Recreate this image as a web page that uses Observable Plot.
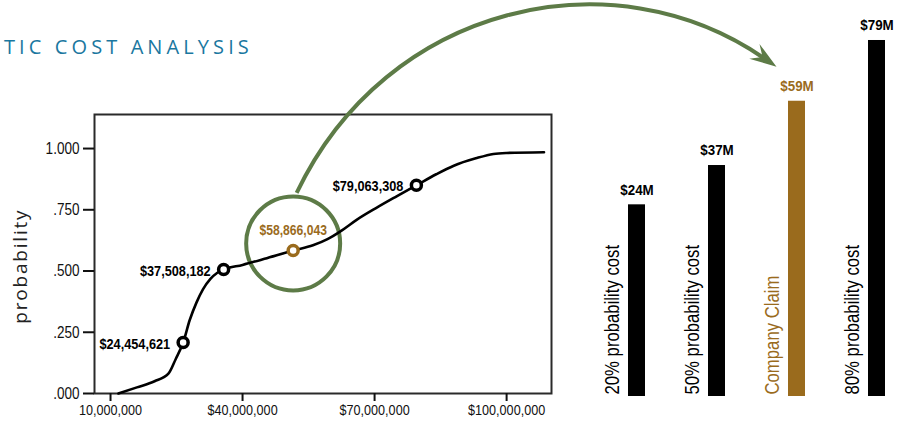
<!DOCTYPE html>
<html>
<head>
<meta charset="utf-8">
<script src="https://cdn.jsdelivr.net/npm/d3@7"></script>
<script src="https://cdn.jsdelivr.net/npm/@observablehq/plot@0.6"></script>
<style>
  html, body { margin: 0; padding: 0; background: #fff; }
  #wrap { position: relative; width: 897px; height: 427px; overflow: hidden; }
  #title { position: absolute; left: 4px; top: 37px; font-family: "Open Sans", "Noto Sans", sans-serif; font-size: 20px; line-height: 20px; letter-spacing: 4.1px; color: #1a77a0; white-space: nowrap; }
  .pa, .pb { position: absolute; top: 0; }
  .pa { left: 0; }
  .pb { left: 590px; }
</style>
</head>
<body>
<div id="wrap"><div id="title">TIC COST ANALYSIS</div></div>
<script>
// ---- data ----
// cumulative probability curve: cost ($M, in axis units) and probability
const curveCost = [11.8, 16, 20, 23.2, 24.8, 26.5, 28, 29.5, 31, 32.7, 34.2, 35.7, 40, 45, 51.5, 56, 59.3, 62.5, 66, 70.6, 75, 79.5, 84, 88, 93, 97, 100, 108.5];
const curveProb = [0, 0.025, 0.05, 0.082, 0.14, 0.208, 0.3, 0.37, 0.425, 0.468, 0.492, 0.506, 0.525, 0.55, 0.584, 0.605, 0.63, 0.665, 0.71, 0.76, 0.805, 0.85, 0.895, 0.93, 0.96, 0.978, 0.982, 0.985];
// highlighted points on the curve
const markerCost = [26.5, 35.7, 51.5, 79.5];
const markerProb = [0.208, 0.506, 0.584, 0.85];
const markerLabels = ["$24,454,621", "$37,508,182", "$58,866,043", "$79,063,308"];
const claimIndex = 2;
// axes
const xTicks = [10, 40, 70, 100];
const xTickLabels = ["10,000,000", "$40,000,000", "$70,000,000", "$100,000,000"];
const yTicks = [0, 0.25, 0.5, 0.75, 1];
// bars
const barCategories = ["20% probability cost", "50% probability cost", "Company Claim", "80% probability cost"];
const barValues = [24.45, 37.51, 58.87, 79.06];
const barLabels = ["$24M", "$37M", "$59M", "$79M"];

// ---- styles ----
const GOLD = "#9a6b1d";
const GREEN = "#5d7b47";
const base = '"Liberation Sans", Arial, sans-serif';
const SQUEEZE = 0.82;      // condensed look
const SQUEEZE_BAR = 0.88;  // bar value labels

const wrap = document.getElementById("wrap");
const mIdx = d3.range(markerCost.length);
const markerColors = mIdx.map(i => i === claimIndex ? GOLD : "#000");

const plotA = Plot.plot({
  width: 580, height: 427,
  marginLeft: 94, marginRight: 29, marginTop: 114, marginBottom: 34,
  style: { fontFamily: base, background: "transparent", overflow: "visible", color: "#111" },
  x: { domain: [6.36, 110.2] },
  y: { domain: [0, 1.139] },
  marks: [
    Plot.frame({ stroke: "#2a2a2a", strokeWidth: 2 }),
    Plot.axisX(xTicks, { tickSize: 8, tickPadding: 3, strokeWidth: 2, fontSize: 15.4, label: null,
      tickFormat: d => xTickLabels[xTicks.indexOf(d)] }),
    Plot.axisY(yTicks, { tickSize: 11, tickPadding: 4, strokeWidth: 2, fontSize: 16.5, label: null,
      tickFormat: d => d3.format(".3f")(d).replace(/^0/, "") }),
    Plot.text(["probability"], { frameAnchor: "left", textAnchor: "middle", dx: -74, dy: 13, rotate: -90,
      fontFamily: '"Open Sans", "Noto Sans", sans-serif', fontSize: 19, fill: "#222" }),
    Plot.dot([claimIndex], { x: i => markerCost[i], y: i => markerProb[i], r: 47, dy: -7,
      fill: "none", stroke: GREEN, strokeWidth: 4 }),
    Plot.line(d3.range(curveCost.length), { x: i => curveCost[i], y: i => curveProb[i],
      curve: "monotone-x", stroke: "#000", strokeWidth: 2.6 }),
    Plot.dot(mIdx, { x: i => markerCost[i], y: i => markerProb[i], r: 5, fill: "#fff",
      stroke: i => markerColors[i], strokeWidth: 3.5 }),
    Plot.text(mIdx.filter(i => i !== claimIndex), { x: i => markerCost[i], y: i => markerProb[i],
      text: i => markerLabels[i], textAnchor: "end", dx: -13, dy: 1, fontWeight: "bold", fontSize: 15.5, fill: "#000" }),
    Plot.text([claimIndex], { x: i => markerCost[i], y: i => markerProb[i],
      text: i => markerLabels[i], dy: -20, fontWeight: "bold", fontSize: 14.8, fill: GOLD })
  ]
});
plotA.classList.add("pa");
wrap.appendChild(plotA);

const bIdx = d3.range(barCategories.length);
const barColors = bIdx.map(i => i === claimIndex ? GOLD : "#000");
const yBase = -39.25;
const plotB = Plot.plot({
  width: 307, height: 427,
  marginLeft: 36.5, marginRight: 10.5, marginTop: 0, marginBottom: 31,
  style: { fontFamily: base, background: "transparent", overflow: "visible" },
  x: { domain: barCategories, paddingInner: 0.79, paddingOuter: 0, axis: null },
  y: { domain: [yBase, 92.35], axis: null },
  marks: [
    Plot.barY(bIdx, { x: i => barCategories[i], y1: yBase, y2: i => barValues[i], fill: i => barColors[i] }),
    Plot.text(bIdx, { x: i => barCategories[i], y: i => barValues[i], text: i => barLabels[i],
      dy: -15, fontWeight: "bold", fontSize: 15.2, fill: i => barColors[i] }),
    Plot.text(bIdx, { x: i => barCategories[i], y: yBase, text: i => barCategories[i],
      rotate: -90, textAnchor: "start", dx: -25, dy: -2, fontSize: 20.4, fill: i => barColors[i] })
  ]
});
plotB.classList.add("pb");
wrap.appendChild(plotB);

// squeeze labels along their own direction; spread the letters of the y label
[plotA, plotB].forEach(svg => {
  d3.select(svg).selectAll("text").each(function () {
    const t = this;
    const L = t.getComputedTextLength();
    if (!(L > 0)) return;
    const s = t.textContent;
    if (s === "probability") {
      t.setAttribute("textLength", (L + 10 * 1.8).toFixed(1));
      t.setAttribute("lengthAdjust", "spacing");
    } else {
      const k = barLabels.includes(s) ? SQUEEZE_BAR : SQUEEZE;
      t.setAttribute("textLength", (L * k).toFixed(1));
      t.setAttribute("lengthAdjust", "spacingAndGlyphs");
    }
  });
});

// ---- connecting arrow: from the claim point's circle to the claim bar ----
const sxA = plotA.scale("x"), syA = plotA.scale("y");
const sxB = plotB.scale("x"), syB = plotB.scale("y");
const cx = sxA.apply(markerCost[claimIndex]);
const cy = syA.apply(markerProb[claimIndex]) - 7;
const start = [cx + 4, cy - 50];
const barCx = 590 + sxB.apply(barCategories[claimIndex]) + sxB.bandwidth / 2;
const barTop = syB.apply(barValues[claimIndex]);
const tip = [barCx - 20, barTop - 34];
const dir = [0.82, 0.57];
const nrm = [-dir[1], dir[0]];
const end = [tip[0] - 14 * dir[0], tip[1] - 14 * dir[1]];
const c1 = [start[0] + 90, start[1] - 189];
const c2 = [tip[0] - 164, tip[1] - 114];

const ov = d3.select(wrap).append("svg")
  .attr("width", 897).attr("height", 427)
  .style("position", "absolute").style("left", 0).style("top", 0).style("pointer-events", "none");
ov.append("path")
  .attr("d", `M${start}C${c1} ${c2} ${end}`)
  .attr("fill", "none").attr("stroke", GREEN).attr("stroke-width", 4);
const back = 27, side = 9, notch = 17;
const p = (a, s) => [tip[0] - a * dir[0] + s * nrm[0], tip[1] - a * dir[1] + s * nrm[1]];
ov.append("path")
  .attr("d", `M${tip}L${p(back, side)}L${p(notch, 0)}L${p(back, -side)}Z`)
  .attr("fill", GREEN);
</script>
</body>
</html>
